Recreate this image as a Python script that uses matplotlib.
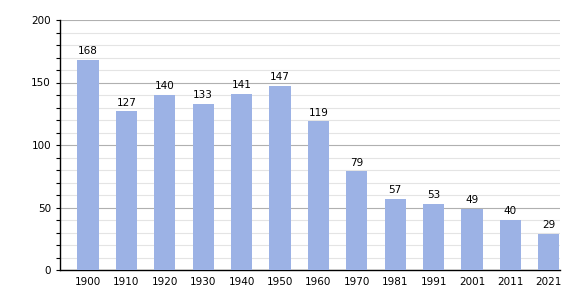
import matplotlib
matplotlib.use("Agg")
import matplotlib.pyplot as plt
import numpy as np

years = ["1900", "1910", "1920", "1930", "1940", "1950", "1960",
         "1970", "1981", "1991", "2001", "2011", "2021"]
population = [168, 127, 140, 133, 141, 147, 119, 79, 57, 53, 49, 40, 29]

bar_color = "#9cb2e5"

fig = plt.figure(figsize=(5.8, 3.0), dpi=100)
ax = fig.add_axes([60/580, 30/300, 500/300 * 300/580, 250/300])

x = np.arange(len(years))
ax.bar(x, population, width=0.55, color=bar_color, zorder=3)

for xi, v in zip(x, population):
    ax.text(xi, v + 3, str(v), ha="center", va="bottom", fontsize=7.5, zorder=4)

ax.set_xlim(-0.73, 12.29)
ax.set_ylim(0, 200)
ax.set_xticks(x)
ax.set_xticklabels(years, fontsize=7.5)
ax.set_yticks(np.arange(0, 201, 50))
ax.set_yticks(np.arange(0, 201, 10), minor=True)
ax.tick_params(axis="y", labelsize=7.5, length=3, width=0.8)
ax.tick_params(axis="y", which="minor", length=3, width=0.8)
ax.tick_params(axis="x", length=0, pad=5)

ax.grid(axis="y", which="minor", color="#e4e4e4", linewidth=0.8, zorder=0)
ax.grid(axis="y", which="major", color="#b0b0b0", linewidth=0.8, zorder=1)

for side in ["top", "right"]:
    ax.spines[side].set_visible(False)
ax.spines["left"].set_linewidth(1.0)
ax.spines["bottom"].set_linewidth(1.0)

fig.savefig("out.png", dpi=100)
